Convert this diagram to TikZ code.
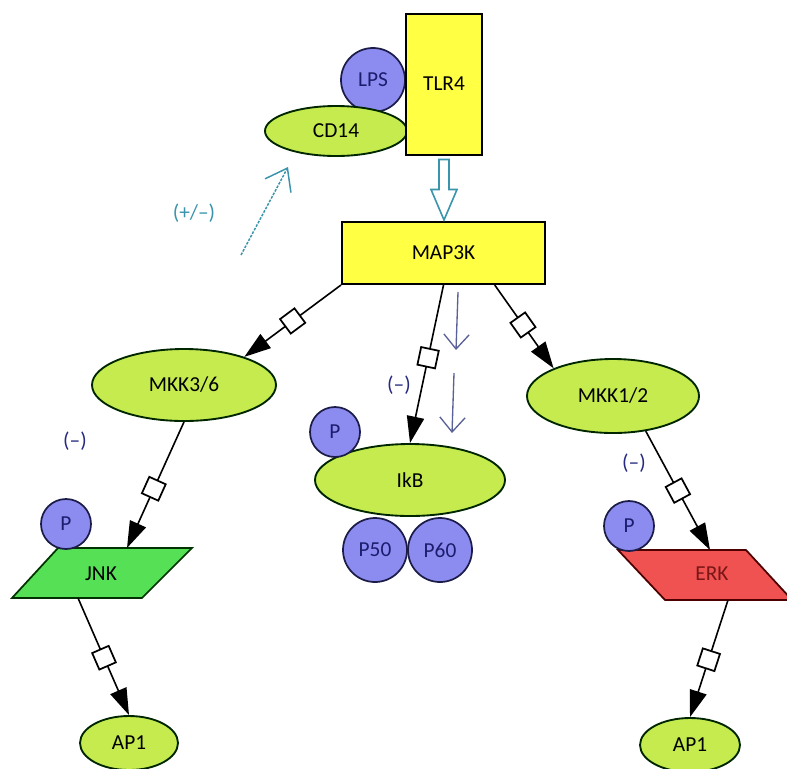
\documentclass[tikz,border=0pt]{standalone}
\usepackage{fontspec}
\setmainfont{Carlito}
\usetikzlibrary{shapes.geometric,arrows.meta,calc}
\definecolor{yel}{HTML}{FFFF44}
\definecolor{limeg}{HTML}{C5EB4F}
\definecolor{peri}{HTML}{8C8CF0}
\definecolor{navyb}{HTML}{1C1C48}
\definecolor{navyt}{HTML}{1C1C6E}
\definecolor{jnkg}{HTML}{55E055}
\definecolor{erkr}{HTML}{F05252}
\definecolor{erkt}{HTML}{7A1616}
\definecolor{tealc}{HTML}{3A94AC}
\definecolor{slate}{HTML}{5A6098}
\definecolor{negc}{HTML}{262A80}
\begin{document}
\begin{tikzpicture}[x=0.75pt,y=-0.75pt,
  font=\fontsize{16}{19}\selectfont,
  box/.style={rectangle,draw=black,line width=1.5pt,fill=yel,inner sep=0pt},
  oval/.style={ellipse,draw=black!85!green,line width=1.4pt,fill=limeg,inner sep=0pt},
  ball/.style={circle,draw=navyb,line width=1.3pt,fill=peri,text=navyt,inner sep=0pt,minimum size=48pt},
  smallball/.style={ball,minimum size=37.5pt},
  conn/.style={line width=1.2pt,-{Triangle[length=20pt,width=13pt]}},
  sq/.style={rectangle,draw=black,fill=white,line width=1.3pt,minimum size=13.5pt,inner sep=0pt,sloped},
  neg/.style={text=negc},
  thinarrow/.style={draw=slate,line width=1pt,-{Straight Barb[length=11pt,width=19pt]}}
]
\useasboundingbox (0,0) rectangle (787,768);

% top complex
\node[ball] (lps) at (373,80) {LPS};
\node[oval,minimum width=106.5pt,minimum height=37.5pt] (cd14) at (336,131) {CD14};
\node[box,minimum width=57pt,minimum height=105.75pt] (tlr4) at (444,84) {TLR4};
\node[box,minimum width=152.25pt,minimum height=46.5pt] (map3k) at (443.5,253) {MAP3K};

% hollow arrow TLR4 -> MAP3K
\draw[tealc,line width=1.2pt,fill=white,line join=miter]
  ($(tlr4.south)+(-5,4)$) -- ($(tlr4.south)+(5,4)$) -- ($(tlr4.south)+(5,34)$)
  -- ($(tlr4.south)+(13,34)$) -- ($(map3k.north)+(0.5,-1)$) -- ($(tlr4.south)+(-13,34)$)
  -- ($(tlr4.south)+(-5,34)$) -- cycle;

% teal dashed arrow
\node[text=tealc] (pm) at (194,213) {(+/–)};
\coordinate (ta) at (241,255);
\coordinate (tb) at (288,167);
\draw[tealc,line width=1.1pt,dash pattern=on 2pt off 1pt,-{Straight Barb[length=15pt,width=22pt]}] (ta) -- (tb);

% second row
\node[oval,minimum width=138pt,minimum height=54pt] (mkk36) at (184,385) {MKK3/6};
\node[oval,minimum width=129pt,minimum height=55.5pt] (mkk12) at (613,396) {MKK1/2};
\node[oval,minimum width=142.5pt,minimum height=54pt] (ikb) at (410,480) {IkB};
\node[smallball] (pikb) at (335,432) {P};
\node[ball] (p50) at (375,550) {P50};
\node[ball] (p60) at (440,550) {P60};

% JNK
\draw[draw=black!80!green,fill=jnkg,line width=1.3pt,line join=miter] (58,548) -- (192,548) -- (142,598) -- (12,598) -- cycle;
\node (jnk) at (101,574) {JNK};
\coordinate (jnkin) at (127,548);
\coordinate (jnkout) at (78,598);
\node[smallball] (pjnk) at (66,524) {P};

% ERK
\draw[draw=black!70!red,fill=erkr,line width=1.3pt,line join=miter] (618,550) -- (746,550) -- (792,600) -- (665,600) -- cycle;
\node[text=erkt] (erk) at (712,574) {ERK};
\coordinate (erkin) at (710,550);
\coordinate (erkout) at (728,600);
\node[smallball] (perk) at (629,526) {P};

% AP1
\node[oval,minimum width=73.5pt,minimum height=40.5pt] (ap1l) at (129,743) {AP1};
\node[oval,minimum width=75pt,minimum height=40.5pt] (ap1r) at (690,745) {AP1};

% connectors
\draw[conn] (map3k.south west) -- node[sq,pos=0.5]{} (mkk36.25);
\draw[conn] (map3k.south) -- node[sq,pos=0.46]{} (ikb.north);
\draw[conn] (map3k.-32.6) -- node[sq,pos=0.48]{} (mkk12.155);
\draw[conn] (mkk36.south) -- node[sq,pos=0.53]{} (jnkin);
\draw[conn] (mkk12.-47) -- node[sq,pos=0.5]{} (erkin);
\draw[conn] (jnkout) -- node[sq,pos=0.51]{} (ap1l.north);
\draw[conn] (erkout) -- node[sq,pos=0.51]{} (ap1r.north);

% slate thin arrows
\coordinate (s1a) at (458,292);
\coordinate (s1b) at (456,350);
\coordinate (s2a) at (454,373);
\coordinate (s2b) at (452,433);
\draw[thinarrow] (s1a) -- (s1b);
\draw[thinarrow] (s2a) -- (s2b);

% (-) labels
\node[neg] (n1) at (399,385) {(–)};
\node[neg] (n2) at (75,441) {(–)};
\node[neg] (n3) at (634,463) {(–)};
\end{tikzpicture}
\end{document}
